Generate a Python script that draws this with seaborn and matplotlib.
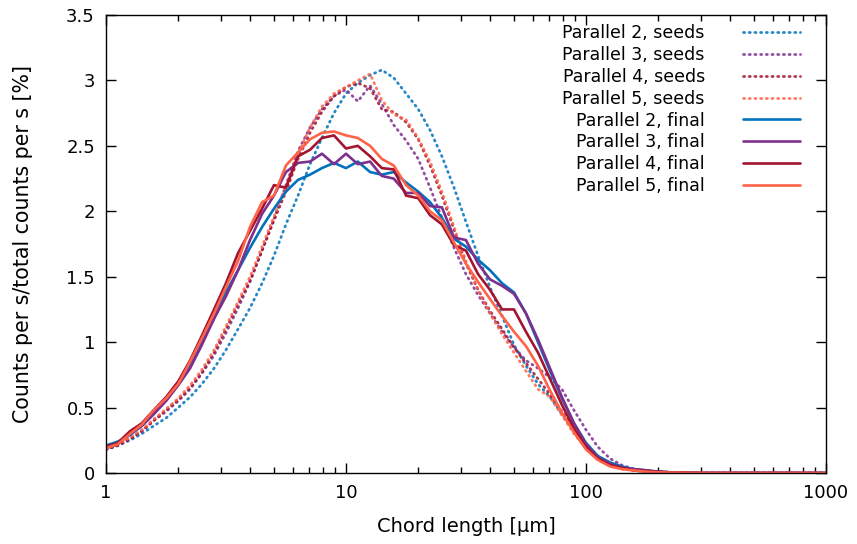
import numpy as np
import pandas as pd
import matplotlib
matplotlib.use("Agg")
import matplotlib.pyplot as plt
from matplotlib.ticker import NullFormatter, LogLocator
import seaborn as sns

# chord length bins [µm]
chord = [1.00, 1.12, 1.26, 1.41, 1.58, 1.78, 2.00, 2.24, 2.51, 2.82,
         3.16, 3.55, 3.98, 4.47, 5.01, 5.62, 6.31, 7.08, 7.94, 8.91,
         10.0, 11.2, 12.6, 14.1, 15.8, 17.8, 20.0, 22.4, 25.1, 28.2,
         31.6, 35.5, 39.8, 44.7, 50.1, 56.2, 63.1, 70.8, 79.4, 89.1,
         100, 112, 126, 141, 158, 178, 200, 224, 251, 282,
         316, 355, 398, 447, 501, 562, 631, 708, 794, 891, 1000]

p2_seeds = [0.18, 0.21, 0.25, 0.30, 0.36, 0.42, 0.50, 0.58, 0.68, 0.80,
            0.94, 1.10, 1.26, 1.45, 1.66, 1.90, 2.12, 2.36, 2.56, 2.75,
            2.90, 2.98, 3.04, 3.08, 3.02, 2.90, 2.78, 2.62, 2.42, 2.18,
            1.92, 1.66, 1.42, 1.20, 0.98, 0.82, 0.68, 0.58, 0.45, 0.33,
            0.22, 0.13, 0.07, 0.04, 0.02, 0.01, 0.006, 0.004, 0.002, 0.001,
            0, 0, 0, 0, 0, 0, 0, 0, 0, 0, 0]
p3_seeds = [0.18, 0.21, 0.26, 0.32, 0.40, 0.47, 0.55, 0.64, 0.76, 0.90,
            1.07, 1.26, 1.46, 1.70, 1.94, 2.20, 2.46, 2.64, 2.78, 2.88,
            2.93, 2.84, 2.96, 2.82, 2.66, 2.54, 2.40, 2.18, 1.95, 1.72,
            1.52, 1.36, 1.22, 1.08, 0.96, 0.86, 0.80, 0.73, 0.64, 0.48,
            0.33, 0.20, 0.11, 0.06, 0.03, 0.02, 0.01, 0.005, 0.003, 0.001,
            0, 0, 0, 0, 0, 0, 0, 0, 0, 0, 0]
p4_seeds = [0.18, 0.21, 0.26, 0.32, 0.40, 0.48, 0.56, 0.65, 0.77, 0.92,
            1.10, 1.29, 1.47, 1.70, 1.93, 2.15, 2.40, 2.60, 2.76, 2.88,
            2.95, 2.98, 2.94, 2.78, 2.76, 2.68, 2.55, 2.35, 2.12, 1.86,
            1.60, 1.40, 1.24, 1.10, 0.96, 0.84, 0.72, 0.60, 0.47, 0.34,
            0.22, 0.12, 0.07, 0.04, 0.02, 0.01, 0.006, 0.004, 0.002, 0.001,
            0, 0, 0, 0, 0, 0, 0, 0, 0, 0, 0]
p5_seeds = [0.19, 0.22, 0.27, 0.33, 0.41, 0.49, 0.57, 0.67, 0.79, 0.94,
            1.12, 1.31, 1.50, 1.73, 1.96, 2.19, 2.44, 2.64, 2.80, 2.90,
            2.95, 3.00, 3.05, 2.85, 2.74, 2.70, 2.56, 2.38, 2.15, 1.88,
            1.62, 1.40, 1.22, 1.06, 0.92, 0.78, 0.64, 0.58, 0.44, 0.30,
            0.19, 0.10, 0.06, 0.03, 0.02, 0.01, 0.006, 0.004, 0.002, 0.001,
            0, 0, 0, 0, 0, 0, 0, 0, 0, 0, 0]
p2_final = [0.21, 0.24, 0.29, 0.36, 0.45, 0.56, 0.68, 0.83, 1.00, 1.18,
            1.38, 1.55, 1.72, 1.88, 2.02, 2.15, 2.24, 2.28, 2.33, 2.37,
            2.33, 2.38, 2.30, 2.28, 2.30, 2.22, 2.15, 2.07, 1.95, 1.79,
            1.73, 1.63, 1.55, 1.45, 1.38, 1.22, 1.00, 0.78, 0.57, 0.38,
            0.23, 0.13, 0.08, 0.05, 0.03, 0.02, 0.01, 0.005, 0.003, 0.001,
            0, 0, 0, 0, 0, 0, 0, 0, 0, 0, 0]
p3_final = [0.19, 0.22, 0.30, 0.36, 0.45, 0.55, 0.67, 0.80, 0.98, 1.18,
            1.35, 1.55, 1.78, 1.98, 2.12, 2.30, 2.37, 2.38, 2.44, 2.36,
            2.44, 2.36, 2.38, 2.27, 2.25, 2.14, 2.14, 2.04, 2.03, 1.80,
            1.78, 1.60, 1.48, 1.43, 1.37, 1.22, 1.02, 0.80, 0.58, 0.38,
            0.22, 0.12, 0.07, 0.04, 0.03, 0.02, 0.01, 0.005, 0.003, 0.001,
            0, 0, 0, 0, 0, 0, 0, 0, 0, 0, 0]
p4_final = [0.20, 0.23, 0.32, 0.38, 0.48, 0.58, 0.70, 0.86, 1.05, 1.25,
            1.45, 1.68, 1.85, 2.02, 2.20, 2.18, 2.42, 2.47, 2.56, 2.58,
            2.48, 2.50, 2.42, 2.33, 2.32, 2.12, 2.10, 1.97, 1.90, 1.74,
            1.70, 1.52, 1.40, 1.25, 1.25, 1.08, 0.92, 0.72, 0.52, 0.34,
            0.20, 0.11, 0.06, 0.04, 0.02, 0.015, 0.01, 0.005, 0.003, 0.001,
            0, 0, 0, 0, 0, 0, 0, 0, 0, 0, 0]
p5_final = [0.19, 0.22, 0.30, 0.37, 0.48, 0.57, 0.68, 0.85, 1.03, 1.22,
            1.42, 1.62, 1.88, 2.07, 2.12, 2.35, 2.45, 2.55, 2.60, 2.61,
            2.58, 2.56, 2.50, 2.40, 2.35, 2.20, 2.12, 2.00, 1.93, 1.76,
            1.60, 1.46, 1.33, 1.20, 1.08, 0.97, 0.82, 0.63, 0.46, 0.31,
            0.18, 0.10, 0.05, 0.03, 0.02, 0.01, 0.005, 0.003, 0.002, 0.001,
            0, 0, 0, 0, 0, 0, 0, 0, 0, 0, 0]

labels = ["Parallel 2, seeds", "Parallel 3, seeds", "Parallel 4, seeds", "Parallel 5, seeds",
          "Parallel 2, final", "Parallel 3, final", "Parallel 4, final", "Parallel 5, final"]
series = [p2_seeds, p3_seeds, p4_seeds, p5_seeds, p2_final, p3_final, p4_final, p5_final]
colors = ["#0072bd", "#7e2f8e", "#a2142f", "#ff6347"] * 2
dotted = [True] * 4 + [False] * 4

frames = [pd.DataFrame({"chord": chord, "value": s, "series": lab}) for s, lab in zip(series, labels)]
df = pd.concat(frames, ignore_index=True)

sns.set_style("ticks")
plt.rcParams["font.family"] = ["DejaVu Sans"]
plt.rcParams["xtick.direction"] = "in"
plt.rcParams["ytick.direction"] = "in"
plt.rcParams["text.color"] = "black"
plt.rcParams["axes.labelcolor"] = "black"

fig = plt.figure(figsize=(8.57, 5.44), dpi=100)
ax = fig.add_axes([106 / 857, 71 / 544, 720 / 857, 458 / 544])

for lab, col, dot in zip(labels, colors, dotted):
    sub = df[df["series"] == lab]
    sns.lineplot(data=sub, x="chord", y="value", ax=ax, color=col, label=lab,
                 linewidth=2.0 if dot else 1.9,
                 linestyle=(0, (0.4, 1.65)) if dot else "-",
                 dash_capstyle="round", estimator=None, sort=False,
                 alpha=0.85 if dot else 1.0)

ax.set_xscale("log")
ax.set_xlim(1, 1000)
ax.set_ylim(0, 3.5)
ax.set_xticks([1, 10, 100, 1000])
ax.set_xticklabels(["1", "10", "100", "1000"])
ax.xaxis.set_minor_locator(LogLocator(base=10, subs=np.arange(2, 10)))
ax.xaxis.set_minor_formatter(NullFormatter())
yt = [0, 0.5, 1, 1.5, 2, 2.5, 3, 3.5]
ax.set_yticks(yt)
ax.set_yticklabels(["0", "0.5", "1", "1.5", "2", "2.5", "3", "3.5"])
ax.tick_params(which="major", length=7, width=1, top=True, right=True, labelsize=13, pad=8, colors="black")
ax.tick_params(which="minor", length=4, width=1, top=True, right=True, colors="black")
ax.tick_params(axis="y", which="minor", left=False, right=False)
for sp in ax.spines.values():
    sp.set_visible(True)
    sp.set_linewidth(1.0)
    sp.set_color("black")

ax.set_xlabel("Chord length [µm]", fontsize=14, labelpad=11, color="black")
ax.set_ylabel("Counts per s/total counts per s [%]", fontsize=14.8, labelpad=24, color="black")

leg = ax.legend(loc="upper right", bbox_to_anchor=(0.974, 0.995), frameon=False,
                markerfirst=False, fontsize=12.5, handlelength=3.3, handletextpad=2.2,
                labelspacing=0.22, borderaxespad=0.0, borderpad=0.4)
for t in leg.get_texts():
    t.set_color("black")

fig.savefig("out.png", dpi=100)
